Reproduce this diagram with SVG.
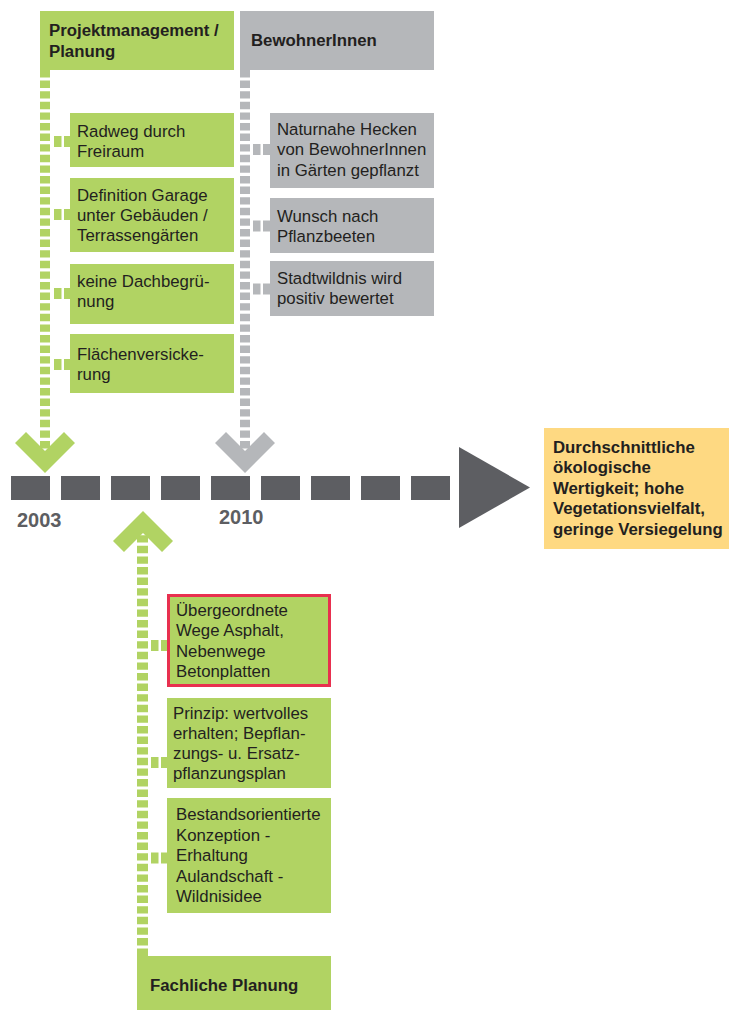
<svg xmlns="http://www.w3.org/2000/svg" width="729" height="1010" viewBox="0 0 729 1010">
<style>
.g{fill:#b1d363}
.gr{fill:#b5b7ba}
.y{fill:#fed982}
.dk{fill:#5d5e62}
.t{font-family:"Liberation Sans",Arial,Helvetica,sans-serif;font-size:16.8px;fill:#231f20}
.b{font-weight:bold}
.yr{font-family:"Liberation Sans",Arial,Helvetica,sans-serif;font-size:20px;font-weight:bold;fill:#5d5e62}
.dg{stroke:#b1d363;fill:none}
.dgr{stroke:#b5b7ba;fill:none}
.v{stroke-width:10;stroke-dasharray:7.4 3.2}
.h{stroke-width:11;stroke-dasharray:7.5 2.5}
</style>
<rect width="729" height="1010" fill="#ffffff"/>
<g id="connectors">
  <line class="dg v" x1="45" y1="70" x2="45" y2="452"/>
  <line class="dgr v" x1="245" y1="70" x2="245" y2="452"/>
  <line class="dg v" x1="142.5" y1="956" x2="142.5" y2="526" style="stroke-width:11"/>
  <line class="dg h" x1="54" y1="141.5" x2="70" y2="141.5"/>
  <line class="dg h" x1="54" y1="214.5" x2="70" y2="214.5"/>
  <line class="dg h" x1="54" y1="293.5" x2="70" y2="293.5"/>
  <line class="dg h" x1="54" y1="364.5" x2="70" y2="364.5"/>
  <line class="dgr h" x1="253" y1="149.5" x2="270" y2="149.5"/>
  <line class="dgr h" x1="253" y1="226" x2="270" y2="226"/>
  <line class="dgr h" x1="253" y1="289" x2="270" y2="289"/>
  <line class="dg h" x1="151" y1="645.5" x2="167" y2="645.5"/>
  <line class="dg h" x1="151" y1="762.5" x2="167" y2="762.5"/>
  <line class="dg h" x1="151" y1="858" x2="167" y2="858"/>
  <polygon class="g" points="15,443 26,432 45,451 64,432 75,443 45,473"/>
  <polygon class="gr" points="215,443 226,432 245,451 264,432 275,443 245,473"/>
  <polygon class="g" points="113,541 124,552 143,533 162,552 173,541 143,511"/>
</g>
<g id="timeline">
  <rect class="dk" x="11" y="476" width="39" height="24"/>
  <rect class="dk" x="61" y="476" width="39" height="24"/>
  <rect class="dk" x="111" y="476" width="39" height="24"/>
  <rect class="dk" x="161" y="476" width="39" height="24"/>
  <rect class="dk" x="211" y="476" width="39" height="24"/>
  <rect class="dk" x="261" y="476" width="39" height="24"/>
  <rect class="dk" x="311" y="476" width="39" height="24"/>
  <rect class="dk" x="361" y="476" width="39" height="24"/>
  <rect class="dk" x="411" y="476" width="39" height="24"/>
  <polygon class="dk" points="459,447 530,487.5 459,528"/>
  <text class="yr" x="17" y="527">2003</text>
  <text class="yr" x="219" y="524">2010</text>
</g>
<g id="projektmanagement">
  <rect class="g" x="40" y="11" width="194" height="59"/>
  <text class="t b" x="49" y="36">Projektmanagement /</text>
  <text class="t b" x="49" y="57">Planung</text>
</g>
<g id="radweg">
  <rect class="g" x="70" y="113" width="164" height="54"/>
  <text class="t" x="77" y="137">Radweg durch</text>
  <text class="t" x="77" y="157">Freiraum</text>
</g>
<g id="definition">
  <rect class="g" x="70" y="178" width="164" height="74"/>
  <text class="t" x="77" y="201">Definition Garage</text>
  <text class="t" x="77" y="221">unter Gebäuden /</text>
  <text class="t" x="77" y="241">Terrassengärten</text>
</g>
<g id="dachbegruenung">
  <rect class="g" x="70" y="264" width="164" height="60"/>
  <text class="t" x="77" y="287">keine Dachbegrü-</text>
  <text class="t" x="77" y="307">nung</text>
</g>
<g id="flaechenversickerung">
  <rect class="g" x="70" y="334" width="164" height="59"/>
  <text class="t" x="77" y="360">Flächenversicke-</text>
  <text class="t" x="77" y="380">rung</text>
</g>
<g id="bewohnerinnen">
  <rect class="gr" x="240" y="11" width="194" height="59"/>
  <text class="t b" x="251" y="46">BewohnerInnen</text>
</g>
<g id="naturnahe">
  <rect class="gr" x="270" y="113" width="164" height="75"/>
  <text class="t" x="277" y="135">Naturnahe Hecken</text>
  <text class="t" x="277" y="155">von BewohnerInnen</text>
  <text class="t" x="277" y="176">in Gärten gepflanzt</text>
</g>
<g id="wunsch">
  <rect class="gr" x="270" y="198" width="164" height="55"/>
  <text class="t" x="277" y="222">Wunsch nach</text>
  <text class="t" x="277" y="242">Pflanzbeeten</text>
</g>
<g id="stadtwildnis">
  <rect class="gr" x="270" y="261" width="164" height="55"/>
  <text class="t" x="277" y="284">Stadtwildnis wird</text>
  <text class="t" x="277" y="304">positiv bewertet</text>
</g>
<g id="ergebnis">
  <rect class="y" x="544" y="428" width="185" height="121"/>
  <text class="t b" x="553" y="453">Durchschnittliche</text>
  <text class="t b" x="553" y="473">ökologische</text>
  <text class="t b" x="553" y="494">Wertigkeit; hohe</text>
  <text class="t b" x="553" y="514">Vegetationsvielfalt,</text>
  <text class="t b" x="553" y="535">geringe Versiegelung</text>
</g>
<g id="wege">
  <rect class="g" x="168.5" y="595.5" width="161" height="90" stroke="#e8304f" stroke-width="3"/>
  <text class="t" x="176" y="616">Übergeordnete</text>
  <text class="t" x="176" y="636">Wege Asphalt,</text>
  <text class="t" x="176" y="657">Nebenwege</text>
  <text class="t" x="176" y="677">Betonplatten</text>
</g>
<g id="prinzip">
  <rect class="g" x="167" y="698" width="164" height="90"/>
  <text class="t" x="173" y="719">Prinzip: wertvolles</text>
  <text class="t" x="173" y="739">erhalten; Bepflan-</text>
  <text class="t" x="173" y="759">zungs- u. Ersatz-</text>
  <text class="t" x="173" y="779">pflanzungsplan</text>
</g>
<g id="bestand">
  <rect class="g" x="167" y="798" width="164" height="115"/>
  <text class="t" x="176" y="820">Bestandsorientierte</text>
  <text class="t" x="176" y="841">Konzeption -</text>
  <text class="t" x="176" y="861">Erhaltung</text>
  <text class="t" x="176" y="882">Aulandschaft -</text>
  <text class="t" x="176" y="902">Wildnisidee</text>
</g>
<g id="fachliche-planung">
  <rect class="g" x="137" y="956" width="194" height="54"/>
  <text class="t b" x="150" y="991">Fachliche Planung</text>
</g>
</svg>
